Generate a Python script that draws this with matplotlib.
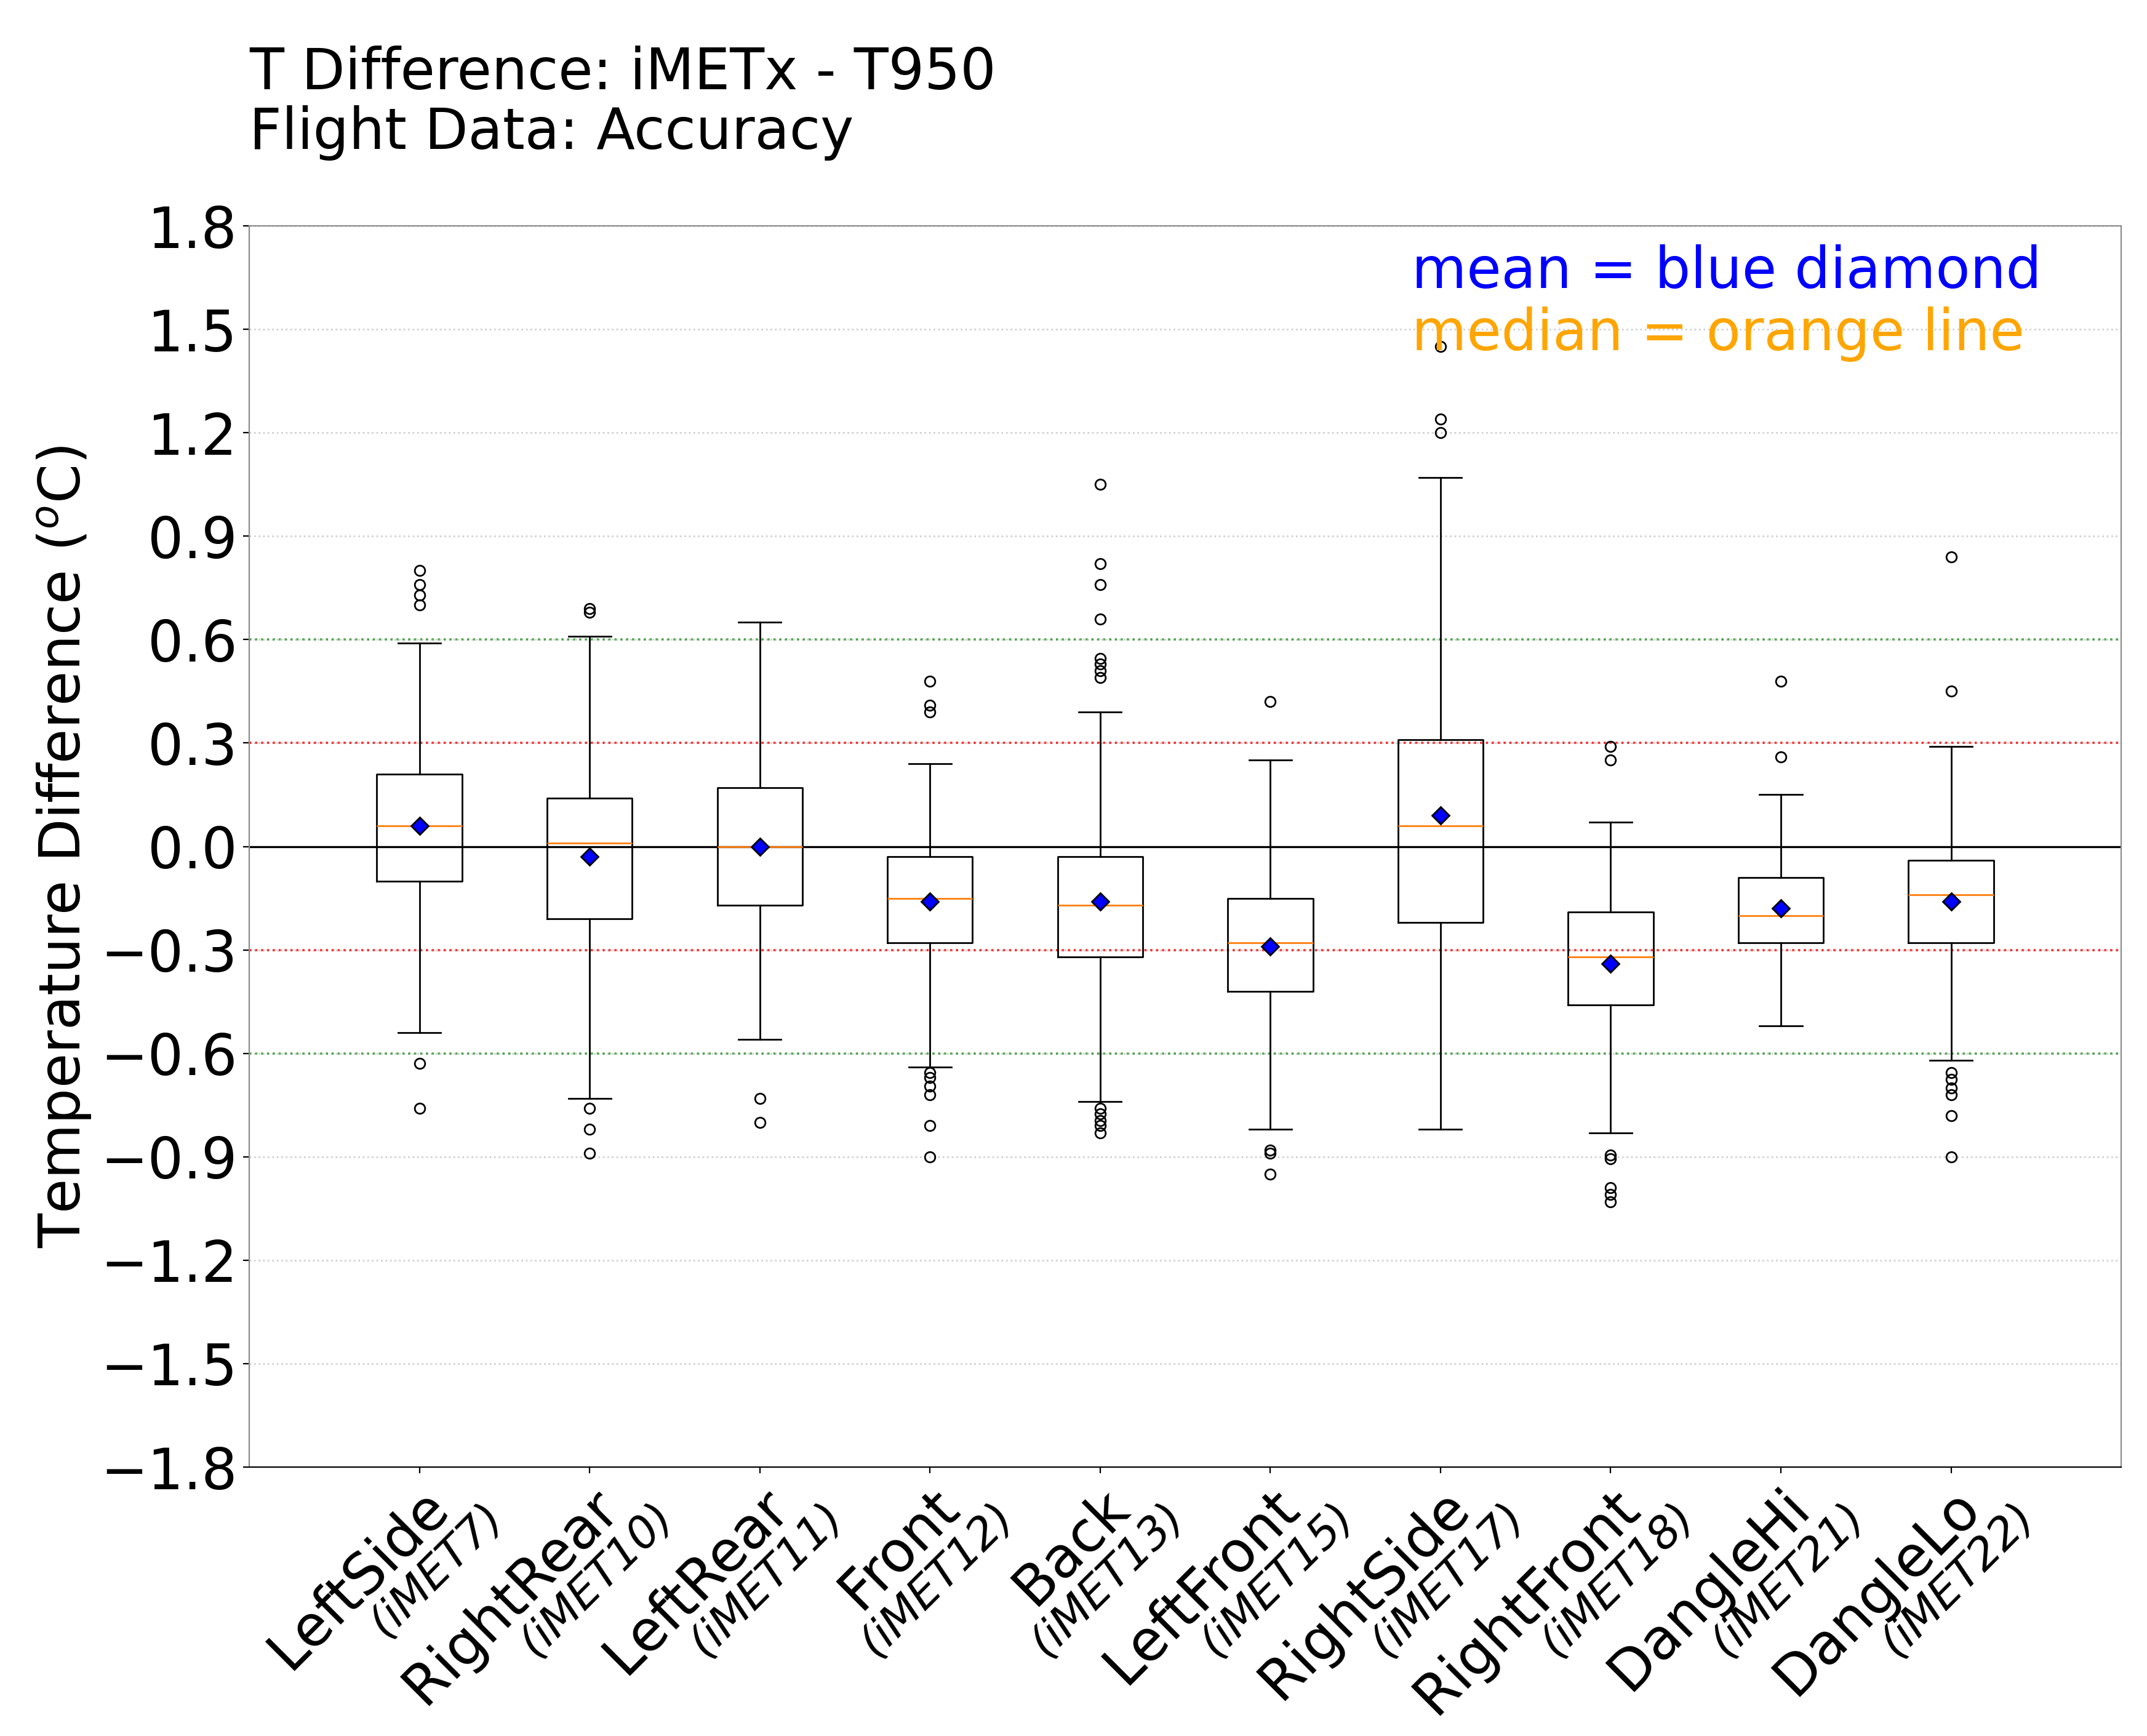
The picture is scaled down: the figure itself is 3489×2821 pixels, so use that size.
import matplotlib
matplotlib.use('Agg')
import matplotlib.pyplot as plt
import numpy as np

# sensor names and their iMET ids
names = ['LeftSide', 'RightRear', 'LeftRear', 'Front', 'Back',
         'LeftFront', 'RightSide', 'RightFront', 'DangleHi', 'DangleLo']
ids = ['iMET7', 'iMET10', 'iMET11', 'iMET12', 'iMET13',
       'iMET15', 'iMET17', 'iMET18', 'iMET21', 'iMET22']

# box statistics (deg C)
q1 = [-0.10, -0.21, -0.17, -0.28, -0.32, -0.42, -0.22, -0.46, -0.28, -0.28]
med = [0.06, 0.01, 0.00, -0.15, -0.17, -0.28, 0.06, -0.32, -0.20, -0.14]
q3 = [0.21, 0.14, 0.17, -0.03, -0.03, -0.15, 0.31, -0.19, -0.09, -0.04]
mean = [0.06, -0.03, 0.00, -0.16, -0.16, -0.29, 0.09, -0.34, -0.18, -0.16]
whislo = [-0.54, -0.73, -0.56, -0.64, -0.74, -0.82, -0.82, -0.83, -0.52, -0.62]
whishi = [0.59, 0.61, 0.65, 0.24, 0.39, 0.25, 1.07, 0.07, 0.15, 0.29]
fliers = [
    [0.80, 0.76, 0.73, 0.70, -0.63, -0.76],
    [0.69, 0.68, -0.76, -0.82, -0.89],
    [-0.73, -0.80],
    [0.48, 0.41, 0.39, -0.655, -0.67, -0.695, -0.72, -0.81, -0.90],
    [1.05, 0.82, 0.76, 0.66, 0.545, 0.53, 0.51, 0.49,
     -0.76, -0.775, -0.795, -0.81, -0.83],
    [0.42, -0.88, -0.89, -0.95],
    [1.45, 1.24, 1.20],
    [0.29, 0.25, -0.895, -0.905, -0.99, -1.01, -1.03],
    [0.48, 0.26],
    [0.84, 0.45, -0.655, -0.675, -0.70, -0.72, -0.78, -0.90],
]

yticks = np.round(np.arange(-1.8, 1.81, 0.3), 1)

FS = 33

fig = plt.figure(figsize=(17.445, 14.105), dpi=200)
ax = fig.add_axes([0.1161, 0.1549, 0.8719, 0.7150])

# build stats for bxp
stats = []
for i in range(len(names)):
    stats.append(dict(med=med[i], q1=q1[i], q3=q3[i], mean=mean[i],
                      whislo=whislo[i], whishi=whishi[i], fliers=fliers[i]))

# reference lines
ax.axhline(0, color='black', linewidth=1.2, zorder=1)
for v in [0.3, -0.3]:
    ax.axhline(v, color='red', linestyle=':', linewidth=1.3, alpha=0.8, zorder=1)
for v in [0.6, -0.6]:
    ax.axhline(v, color='green', linestyle=':', linewidth=1.3, alpha=0.65, zorder=1)

positions = np.arange(1, len(names) + 1)
ax.bxp(stats, positions=positions, widths=0.5, showmeans=True,
       boxprops=dict(color='black', linewidth=1),
       whiskerprops=dict(color='black', linewidth=1),
       capprops=dict(color='black', linewidth=1),
       medianprops=dict(color='#ff7f0e', linewidth=1),
       meanprops=dict(marker='D', markerfacecolor='blue',
                      markeredgecolor='black', markersize=7),
       flierprops=dict(marker='o', markerfacecolor='none',
                       markeredgecolor='black', markersize=6))

ax.set_xlim(0, len(names) + 1)
ax.set_ylim(-1.8, 1.8)
ax.set_yticks(yticks)
ax.yaxis.grid(True, linestyle=':', color='#d0d0d0', linewidth=1)
ax.set_axisbelow(True)

# main tick labels
ax.set_xticks(positions)
ax.set_xticklabels(names, rotation=45, ha='right', va='top',
                   rotation_mode='anchor', fontsize=FS)
# smaller italic ids sitting under each name
for p, m in zip(positions, ids):
    ax.annotate('(' + m + ')', xy=(p, 0), xycoords=ax.get_xaxis_transform(),
                xytext=(36, -16), textcoords='offset points',
                rotation=45, ha='right', va='top', rotation_mode='anchor',
                fontsize=26, fontstyle='italic', annotation_clip=False)
ax.tick_params(axis='y', labelsize=FS)

for s in ['top', 'left', 'right']:
    ax.spines[s].set_color('0.55')
ax.spines['bottom'].set_color('black')

ax.set_ylabel(r'Temperature Difference ($^o$C)', fontsize=FS)
ax.set_title('T Difference: iMETx - T950\nFlight Data: Accuracy',
             loc='left', fontsize=FS, pad=45, linespacing=1.1)

ax.text(0.621, 0.950, 'mean = blue diamond', color='blue', fontsize=FS,
        transform=ax.transAxes)
ax.text(0.621, 0.900, 'median = orange line', color='orange', fontsize=FS,
        transform=ax.transAxes)

fig.savefig('out.png', dpi=200)
